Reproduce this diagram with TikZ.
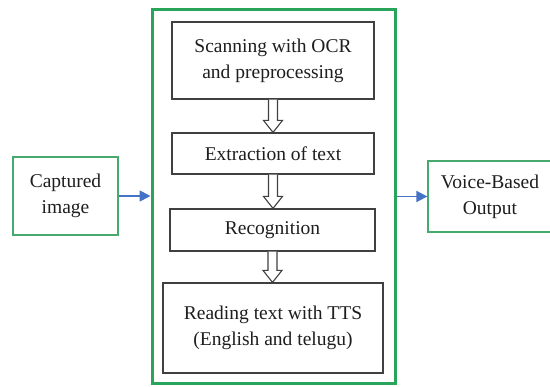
\documentclass[tikz,border=0pt]{standalone}
\usepackage{fontspec}
\setmainfont{Liberation Serif}
\usetikzlibrary{arrows.meta,calc}
\definecolor{framegreen}{RGB}{40,165,90}
\definecolor{boxgreen}{RGB}{70,170,110}
\definecolor{flowblue}{RGB}{68,114,196}
\definecolor{ink}{RGB}{30,30,30}
\tikzset{
  stage/.style={draw=ink!85, line width=1.2pt, text=ink, align=center, inner sep=0pt,
    font=\fontsize{19.5}{26}\selectfont},
  endpoint/.style={draw=boxgreen, line width=1.3pt, text=ink, align=center, inner sep=0pt,
    font=\fontsize{19.5}{26}\selectfont},
  frame/.style={draw=framegreen, line width=3pt, inner sep=0pt},
  flow/.style={draw=flowblue, line width=1.8pt, -{Triangle[length=11pt,width=11pt]}},
  hollow/.style={draw=ink!85, line width=1.1pt, fill=white, line join=miter}
}
% downward outlined block arrow between two stacked nodes
\newcommand\hollowdown[2]{%
  \draw[hollow] let \p1=(#1.south), \p2=(#2.north) in
    (\x1-4.5pt,\y1) -- (\x1-4.5pt,\y2+12pt) -- (\x1-9.5pt,\y2+12pt) -- (\x1,\y2)
    -- (\x1+9.5pt,\y2+12pt) -- (\x1+4.5pt,\y2+12pt) -- (\x1+4.5pt,\y1);}
\begin{document}
\begin{tikzpicture}[x=1pt,y=-1pt]
\useasboundingbox (0,0) rectangle (550,387);
\clip (0,0) rectangle (550,387);
\fill[white] (0,0) rectangle (550,387);

% processing frame
\node[frame, minimum width=243pt, minimum height=374pt] (frame) at (273.5,197) {};

% processing stages
\node[stage, minimum width=202pt, minimum height=77pt] (scan) at (273,60.5)
  {Scanning with OCR\\and preprocessing};
\node[stage, minimum width=202pt, minimum height=41pt] (extract) at (273,153.5)
  {Extraction of text};
\node[stage, minimum width=205pt, minimum height=42pt] (recog) at (272.5,230)
  {Recognition};
\node[stage, minimum width=220pt, minimum height=90pt] (read) at (273,328)
  {Reading text with TTS\\(English and telugu)};

\hollowdown{scan}{extract}
\hollowdown{extract}{recog}
\hollowdown{recog}{read}

% input and output (the output box runs past the right margin)
\node[endpoint, minimum width=105pt, minimum height=78pt] (input) at (65.5,196)
  {Captured\\image};
\node[endpoint, minimum width=140pt, minimum height=71pt] (output) at (498,196.5)
  {\hspace*{-16pt}Voice-Based\\\hspace*{-16pt}Output};

\draw[flow] (input.east) -- (frame.west |- input.east);
\draw[flow] (frame.east |- output.west) -- (output.west);
\end{tikzpicture}
\end{document}
